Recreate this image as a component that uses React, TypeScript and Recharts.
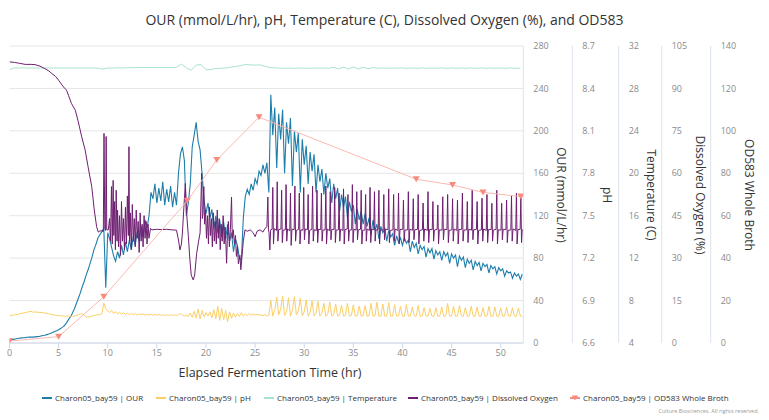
import React from 'react'
import { LineChart, Line, XAxis, YAxis, CartesianGrid } from 'recharts'

// OUR (mmol/L/hr), sampled every 0.2 hr from t = 0
const ourStep = 0.2
const ourValues = [
  2.5, 3.0, 3.4, 3.8, 4.2, 4.5, 4.8, 5.0, 5.1, 5.4, // 0
  5.5, 5.6, 5.5, 5.8, 6.0, 6.2, 6.6, 7.0, 7.3, 7.9, // 2
  8.5, 9.2, 10.0, 10.8, 11.6, 12.5, 13.6, 15.0, 16.5, 19.0, // 4
  22, 24.5, 28, 32, 37, 42, 47, 53, 58, 64, // 6
  69, 75, 81, 88, 93, 99, 102, 105, 108, 52, // 8
  104, 98, 90, 82, 77, 86, 80, 92, 83, 95, // 10
  86, 97, 88, 100, 92, 105, 96, 110, 100, 116, // 12
  108, 120, 142, 136, 150, 132, 146, 134, 152, 130, // 14
  145, 133, 148, 128, 142, 130, 160, 178, 185, 172, // 16
  120, 132, 150, 185, 196, 208, 190, 182, 160, 135, // 18
  122, 132, 118, 126, 108, 120, 104, 116, 100, 114, // 20
  98, 112, 96, 104, 86, 98, 92, 80, 78, 118, // 22
  138, 145, 140, 150, 144, 155, 150, 162, 158, 168, // 24
  160, 170, 142, 234, 196, 222, 165, 216, 192, 220, // 26
  160, 208, 188, 212, 148, 200, 180, 198, 142, 192, // 28
  168, 186, 150, 180, 162, 178, 142, 168, 152, 164, // 30
  140, 160, 146, 155, 132, 150, 136, 146, 124, 140, // 32
  128, 138, 118, 133, 124, 130, 112, 126, 116, 124, // 34
  112, 122, 110, 118, 102, 116, 106, 112, 98, 110, // 36
  104, 108, 96, 106, 100, 103, 92, 101, 95, 99, // 38
  92, 99, 94, 97, 86, 96, 90, 94, 84, 92, // 40
  88, 91, 81, 89, 85, 89, 79, 87, 83, 86, // 42
  78, 86, 82, 85, 75, 84, 80, 83, 72, 82, // 44
  78, 81, 71, 79, 75, 78, 69, 77, 73, 76, // 46
  68, 75, 72, 74, 66, 73, 70, 72, 65, 71, // 48
  68, 70, 63, 68, 66, 67, 61, 66, 63, 65, // 50
  60, 65, // 52
]

// pH, sampled every 0.2 hr from t = 0
const phStep = 0.2
const phValues = [
  6.793, 6.795, 6.797, 6.8, 6.803, 6.806, 6.809, 6.812, 6.815, 6.818,
  6.822, 6.823, 6.818, 6.82, 6.818, 6.817, 6.815, 6.814, 6.812, 6.81,
  6.806, 6.803, 6.8, 6.797, 6.795, 6.793, 6.792, 6.791, 6.79, 6.79,
  6.789, 6.788, 6.789, 6.79, 6.795, 6.8, 6.806, 6.807, 6.796, 6.786,
  6.783, 6.785, 6.79, 6.794, 6.797, 6.8, 6.802, 6.806, 6.882, 6.84,
  6.828, 6.815, 6.83, 6.808, 6.822, 6.805, 6.818, 6.802, 6.815, 6.8,
  6.812, 6.798, 6.81, 6.8, 6.808, 6.796, 6.806, 6.798, 6.807, 6.795,
  6.805, 6.797, 6.804, 6.795, 6.803, 6.796, 6.802, 6.794, 6.801, 6.795,
  6.8, 6.793, 6.801, 6.795, 6.799, 6.794, 6.8, 6.808, 6.798, 6.79,
  6.796, 6.788, 6.812, 6.78, 6.825, 6.776, 6.84, 6.77, 6.83, 6.785,
  6.815, 6.79, 6.82, 6.778, 6.835, 6.77, 6.86, 6.76, 6.845, 6.765,
  6.83, 6.75, 6.82, 6.775, 6.812, 6.783, 6.808, 6.788, 6.815, 6.79,
  6.805, 6.793, 6.81, 6.795, 6.806, 6.798, 6.804, 6.796, 6.8, 6.793,
  6.801, 6.79, 6.798, 6.9, 6.79, 6.83, 6.925, 6.8, 6.84, 6.93,
  6.795, 6.82, 6.92, 6.79, 6.835, 6.928, 6.8, 6.825, 6.915, 6.792,
  6.82, 6.905, 6.79, 6.815, 6.9, 6.792, 6.81, 6.895, 6.79, 6.808,
  6.88, 6.788, 6.805, 6.89, 6.79, 6.8, 6.875, 6.79, 6.798, 6.868,
  6.789, 6.797, 6.88, 6.79, 6.795, 6.87, 6.789, 6.794, 6.862, 6.79,
  6.793, 6.865, 6.789, 6.792, 6.88, 6.79, 6.792, 6.89, 6.789, 6.791,
  6.875, 6.79, 6.791, 6.885, 6.789, 6.79, 6.87, 6.79, 6.791, 6.86,
  6.789, 6.79, 6.872, 6.79, 6.791, 6.855, 6.79, 6.79, 6.865, 6.789,
  6.79, 6.85, 6.79, 6.791, 6.845, 6.789, 6.79, 6.85, 6.79, 6.791,
  6.855, 6.789, 6.79, 6.88, 6.79, 6.791, 6.86, 6.789, 6.79, 6.865,
  6.79, 6.79, 6.85, 6.789, 6.791, 6.86, 6.79, 6.79, 6.855, 6.789,
  6.79, 6.85, 6.79, 6.791, 6.86, 6.789, 6.79, 6.855, 6.79, 6.79,
  6.848, 6.789, 6.791, 6.852, 6.79, 6.79, 6.85, 6.789, 6.79, 6.848,
  6.79, 6.789,
]

// Temperature (C), sampled every 0.5 hr from t = 0
const tempStep = 0.5
const tempValues = [
  29.77, 29.93, 29.92, 29.93, 29.92, 29.93, 29.92, 29.93, 29.93, 29.92,
  29.93, 29.92, 29.93, 29.93, 29.92, 29.93, 29.92, 29.93, 29.92, 29.82,
  29.93, 29.92, 29.94, 29.93, 29.95, 29.96, 29.97, 29.96, 29.98, 29.97,
  29.96, 29.97, 29.98, 29.96, 30.0, 30.3, 29.95, 29.72, 30.2, 30.25,
  29.76, 29.78, 29.88, 29.9, 29.92, 30.0, 30.06, 30.15, 30.25, 30.22,
  30.2, 30.22, 30.1, 29.96, 29.94, 29.92, 29.9, 29.92, 29.9, 29.92,
  29.91, 29.9, 29.92, 29.91, 29.92, 29.9, 30.0, 29.84, 30.02, 29.82,
  30.03, 29.82, 30.01, 29.85, 29.96, 29.9, 29.93, 29.9, 29.93, 29.91,
  29.93, 29.9, 29.93, 29.9, 29.93, 29.9, 29.93, 29.9, 29.93, 29.9,
  29.93, 29.9, 29.93, 29.9, 29.93, 29.9, 29.93, 29.9, 29.93, 29.9,
  29.93, 29.9, 29.93, 29.9, 29.92,
]

// Dissolved oxygen (%), [hr, value]
const doPoints: [number, number][] = [
  [0, 99.4], [0.5, 99.2], [1, 98.9], [1.6, 98.5], [2.2, 98.5], [2.6, 98.4], [3.1, 97.9], [3.6, 97.0],
  [4.0, 96.2], [4.3, 95.3], [4.7, 94.2], [5.0, 92.9], [5.5, 90.5], [5.8, 89.4], [6.0, 87.6], [6.3, 84.7],
  [6.7, 82.3], [7.0, 78.2], [7.35, 72.9], [7.7, 68.2], [8.0, 62.3], [8.37, 55.3], [8.63, 47.0], [8.87, 41.1],
  [9.04, 39.2], [9.2, 39.6], [9.38, 39.7], [9.55, 39.4],
  [9.62, 74.1], [9.7, 40.5], [9.78, 39.8], [9.84, 73.0], [9.9, 40.0], [10.06, 40.0], [10.18, 44.0], [10.28, 36.0],
  [10.38, 55.3], [10.46, 35.0], [10.55, 57.5], [10.62, 38.0], [10.7, 50.0], [10.78, 33.0], [10.86, 54.0], [10.95, 36.0],
  [11.0, 47], [11.1, 34], [11.2, 45], [11.3, 31], [11.4, 50], [11.5, 36], [11.6, 44], [11.7, 33], [11.8, 48], [11.9, 35],
  [12.0, 52], [12.1, 38], [12.16, 69.4], [12.22, 36], [12.3, 46], [12.4, 33], [12.5, 49], [12.6, 36], [12.7, 44], [12.8, 34],
  [12.9, 47], [13.0, 37], [13.1, 43], [13.2, 32], [13.3, 46], [13.4, 36], [13.5, 42], [13.6, 34], [13.7, 45], [13.8, 37],
  [13.9, 43], [14.0, 35], [14.1, 42], [14.2, 37], [14.35, 40.5], [14.5, 40.0],
  [15.0, 40.2], [15.5, 40.1], [16.0, 40.2], [16.5, 40.0], [17.0, 39.9], [17.2, 36.4], [17.35, 32.9], [17.5, 35.0],
  [17.6, 38.9], [17.75, 48.0], [17.9, 56.4], [18.05, 45.0], [18.2, 38.0], [18.35, 30.0], [18.5, 24.0], [18.7, 22.3],
  [18.85, 24.0], [19.05, 31.7], [19.25, 36.0], [19.4, 38.9], [19.56, 60.0], [19.63, 44.0], [19.7, 46.0], [19.78, 55.3], [19.86, 42.0],
  [19.95, 47], [20.05, 37], [20.15, 45], [20.25, 35], [20.35, 48], [20.45, 38], [20.55, 44], [20.65, 34], [20.75, 46], [20.85, 36],
  [20.95, 43], [21.05, 35], [21.15, 47], [21.25, 37], [21.35, 44], [21.45, 33], [21.55, 42], [21.65, 36], [21.75, 45], [21.85, 35],
  [21.95, 41], [22.05, 33], [22.1, 28.2], [22.18, 38], [22.28, 43], [22.38, 34], [22.48, 40], [22.6, 51.6], [22.68, 37], [22.78, 40],
  [22.9, 35], [23.0, 38], [23.1, 30.6], [23.2, 34], [23.3, 28], [23.45, 31], [23.55, 25.9], [23.65, 30], [23.8, 36], [23.97, 40],
  [24.2, 39.5], [24.5, 40.0], [24.8, 39.0], [25.0, 37.6], [25.2, 39.5], [25.5, 40.0], [25.8, 39.2], [26.0, 40.5], [26.2, 41.1],
  [26.3, 51.6], [26.36, 40.0], [26.42, 39.0], [26.5, 32.9], [26.58, 40.0],
  [26.73, 40.2], [26.8, 55], [26.87, 35], [26.95, 40.4],
  [27.18, 39.8], [27.25, 57], [27.32, 36], [27.4, 40.1],
  [27.63, 40.3], [27.7, 54], [27.77, 35.5], [27.85, 39.9],
  [28.08, 40.0], [28.15, 56], [28.22, 36], [28.3, 40.3],
  [28.53, 39.7], [28.6, 53], [28.67, 34.5], [28.75, 40.2],
  [28.98, 40.1], [29.05, 55.5], [29.12, 36], [29.2, 39.8],
  [29.43, 40.2], [29.5, 53], [29.57, 35], [29.65, 40.0],
  [29.88, 39.9], [29.95, 55], [30.02, 36.5], [30.1, 40.3],
  [30.33, 40.1], [30.4, 52.5], [30.47, 35], [30.55, 39.8],
  [30.78, 40.2], [30.85, 55.5], [30.92, 36], [31.0, 40.0],
  [31.23, 39.8], [31.3, 54], [31.37, 35.5], [31.45, 40.2],
  [31.68, 40.1], [31.75, 53], [31.82, 36], [31.9, 39.9],
  [32.13, 40.0], [32.2, 55.5], [32.27, 35], [32.35, 40.3],
  [32.58, 39.7], [32.65, 53.5], [32.72, 36.5], [32.8, 40.1],
  [33.03, 40.2], [33.1, 55], [33.17, 35.5], [33.25, 39.9],
  [33.48, 40.0], [33.55, 53], [33.62, 36], [33.7, 40.2],
  [33.93, 39.8], [34.0, 54.5], [34.07, 35], [34.15, 40.1],
  [34.38, 40.3], [34.45, 52.5], [34.52, 36], [34.6, 39.9],
  [34.83, 40.0], [34.9, 56], [34.97, 35.5], [35.05, 40.2],
  [35.28, 39.9], [35.35, 53.5], [35.42, 36.5], [35.5, 40.0],
  [35.73, 40.2], [35.8, 54], [35.87, 35], [35.95, 39.8],
  [36.18, 40.0], [36.25, 52.5], [36.32, 36], [36.4, 40.3],
  [36.63, 39.8], [36.7, 55], [36.77, 35.5], [36.85, 40.1],
  [37.08, 40.1], [37.15, 53.5], [37.22, 36], [37.3, 39.9],
  [37.53, 40.2], [37.6, 54], [37.67, 35], [37.75, 40.0],
  [38.03, 39.9], [38.1, 52.5], [38.17, 36.5], [38.25, 40.2],
  [38.53, 40.1], [38.6, 54.5], [38.67, 35.5], [38.75, 39.8],
  [39.03, 40.0], [39.1, 52.5], [39.17, 36], [39.25, 40.3],
  [39.53, 39.8], [39.6, 53], [39.67, 35], [39.75, 40.1],
  [40.03, 40.2], [40.1, 50.5], [40.17, 36], [40.25, 39.9],
  [40.53, 40.0], [40.6, 53.5], [40.67, 35.5], [40.75, 40.2],
  [41.03, 39.9], [41.1, 51], [41.17, 36.5], [41.25, 40.0],
  [41.53, 40.2], [41.6, 52.5], [41.67, 35], [41.75, 39.8],
  [42.03, 40.0], [42.1, 49.5], [42.17, 36], [42.25, 40.3],
  [42.53, 39.8], [42.6, 53.5], [42.67, 35.5], [42.75, 40.1],
  [43.03, 40.1], [43.1, 50], [43.17, 36], [43.25, 39.9],
  [43.53, 40.2], [43.6, 48.8], [43.67, 35], [43.75, 40.0],
  [44.03, 39.9], [44.1, 51.7], [44.17, 36.5], [44.25, 40.2],
  [44.53, 40.1], [44.6, 52.5], [44.67, 35.5], [44.75, 39.8],
  [45.03, 40.0], [45.1, 51], [45.17, 36], [45.25, 40.3],
  [45.53, 39.8], [45.6, 50.5], [45.67, 35], [45.75, 40.1],
  [46.03, 40.2], [46.1, 53], [46.17, 36], [46.25, 39.9],
  [46.53, 40.0], [46.6, 50], [46.67, 35.5], [46.75, 40.2],
  [47.03, 39.9], [47.1, 54], [47.17, 36.5], [47.25, 40.0],
  [47.53, 40.2], [47.6, 50], [47.67, 35], [47.75, 39.8],
  [48.03, 40.0], [48.1, 51.2], [48.17, 36], [48.25, 40.3],
  [48.53, 39.8], [48.6, 52.5], [48.67, 35.5], [48.75, 40.1],
  [49.03, 40.1], [49.1, 49.4], [49.17, 36], [49.25, 39.9],
  [49.53, 40.2], [49.6, 54], [49.67, 35], [49.75, 40.0],
  [50.03, 39.9], [50.1, 49.4], [50.17, 36.5], [50.25, 40.2],
  [50.53, 40.1], [50.6, 50.5], [50.67, 35.5], [50.75, 39.8],
  [51.03, 40.0], [51.1, 52], [51.17, 36], [51.25, 40.3],
  [51.53, 39.8], [51.6, 52.9], [51.67, 35], [51.75, 40.1],
  [51.98, 40.2], [52.05, 51.5], [52.12, 35.5], [52.2, 40.0],
  [52.3, 40.1],
]

// OD583 whole broth samples
const odTimes = [0, 5.0, 9.6, 18.1, 21.1, 25.4, 41.4, 45.1, 48.2, 52.05]
const odValues = [0.9, 3.0, 21.8, 67, 86.3, 106.4, 77.2, 74.5, 71, 69]

const xTicks = [0, 5, 10, 15, 20, 25, 30, 35, 40, 45, 50]
const ourTicks = [0, 40, 80, 120, 160, 200, 240, 280]
const phTicks = [6.6, 6.9, 7.2, 7.5, 7.8, 8.1, 8.4, 8.7]
const tempTicks = [4, 8, 12, 16, 20, 24, 28, 32]
const doTicks = [0, 15, 30, 45, 60, 75, 90, 105]
const odTicks = [0, 20, 40, 60, 80, 100, 120, 140]

const ourData = ourValues.map((v, i) => ({ t: Math.round(i * ourStep * 10) / 10, v }))
const phData = phValues.map((v, i) => ({ t: Math.round(i * phStep * 10) / 10, v }))
const tempData = tempValues.map((v, i) => ({ t: i * tempStep, v }))
const doData = doPoints.map(([t, v]) => ({ t, v }))
const odData = odTimes.map((t, i) => ({ t, v: odValues[i] }))

const C_OUR = '#1d7eaa'
const C_PH = '#fbcf67'
const C_TEMP = '#a9e2cd'
const C_DO = '#6e1f70'
const C_OD_LINE = '#fbb9b0'
const C_OD_MARK = '#f98a7e'

const FONT = '"Open Sans", "Noto Sans", sans-serif'
const axisStroke = '#dce3ee'
const tickStyle = { fontSize: 9, fill: '#8a8a8a', fontFamily: FONT }

// axis ids are prefixed so they sort in the order the axes sit, plot outwards
const ID_OUR = 'a_our'
const ID_PH = 'b_ph'
const ID_TEMP = 'c_temp'
const ID_DO = 'd_do'
const ID_OD = 'e_od'

const TriangleDown = (props: any) => {
  const { cx, cy, index } = props
  if (cx == null || cy == null) return null
  return (
    <path
      key={`od-dot-${index}`}
      d={`M${cx - 3.5},${cy - 3} L${cx + 3.5},${cy - 3} L${cx},${cy + 3} Z`}
      fill={C_OD_MARK}
    />
  )
}

const legendItems = [
  { label: 'Charon05_bay59 | OUR', color: C_OUR, x: 42 },
  { label: 'Charon05_bay59 | pH', color: C_PH, x: 156 },
  { label: 'Charon05_bay59 | Temperature', color: C_TEMP, x: 264 },
  { label: 'Charon05_bay59 | Dissolved Oxygen', color: C_DO, x: 408 },
  { label: 'Charon05_bay59 | OD583 Whole Broth', color: C_OD_MARK, x: 570, marker: true },
]

const axisLabels = [
  { text: 'OUR (mmol/L/hr)', cx: 561 },
  { text: 'pH', cx: 607 },
  { text: 'Temperature (C)', cx: 651 },
  { text: 'Dissolved Oxygen (%)', cx: 700 },
  { text: 'OD583 Whole Broth', cx: 749 },
]

export default function App() {
  return (
    <div style={{ position: 'absolute', left: 0, top: 0, width: 769, height: 420, fontFamily: FONT, background: '#fff', overflow: 'hidden' }}>
      <div style={{ position: 'absolute', left: 0, top: 0 }}>
        <LineChart width={769} height={420} margin={{ top: 46, right: 8.3, bottom: 52, left: 9.5 }}>
          <CartesianGrid yAxisId={ID_OUR} vertical={false} stroke="#e6e6e6" />
          <XAxis
            type="number"
            dataKey="t"
            domain={[0, 52.3]}
            ticks={xTicks}
            interval={0}
            allowDataOverflow
            height={25}
            stroke="#ccd6eb"
            tickSize={5}
            tickMargin={2}
            tick={tickStyle}
          />
          <YAxis yAxisId={ID_OUR} orientation="right" width={49} domain={[0, 280]} ticks={ourTicks} interval={0}
            axisLine={{ stroke: axisStroke }} tickLine={false} tickSize={6} tickMargin={4} tick={tickStyle} allowDataOverflow />
          <YAxis yAxisId={ID_PH} orientation="right" width={46.4} domain={[6.6, 8.7]} ticks={phTicks} interval={0}
            tickFormatter={(v: number) => v.toFixed(1)}
            axisLine={{ stroke: axisStroke }} tickLine={false} tickSize={6} tickMargin={4} tick={tickStyle} allowDataOverflow />
          <YAxis yAxisId={ID_TEMP} orientation="right" width={43} domain={[4, 32]} ticks={tempTicks} interval={0}
            axisLine={{ stroke: axisStroke }} tickLine={false} tickSize={6} tickMargin={4} tick={tickStyle} allowDataOverflow />
          <YAxis yAxisId={ID_DO} orientation="right" width={49} domain={[0, 105]} ticks={doTicks} interval={0}
            axisLine={{ stroke: axisStroke }} tickLine={false} tickSize={6} tickMargin={4} tick={tickStyle} allowDataOverflow />
          <YAxis yAxisId={ID_OD} orientation="right" width={50} domain={[0, 140]} ticks={odTicks} interval={0}
            axisLine={{ stroke: axisStroke }} tickLine={false} tickSize={6} tickMargin={4} tick={tickStyle} allowDataOverflow />

          <Line yAxisId={ID_OUR} data={ourData} dataKey="v" type="linear" stroke={C_OUR} strokeWidth={1.1} dot={false} isAnimationActive={false} />
          <Line yAxisId={ID_PH} data={phData} dataKey="v" type="linear" stroke={C_PH} strokeWidth={1} dot={false} isAnimationActive={false} />
          <Line yAxisId={ID_TEMP} data={tempData} dataKey="v" type="linear" stroke={C_TEMP} strokeWidth={1} dot={false} isAnimationActive={false} />
          <Line yAxisId={ID_DO} data={doData} dataKey="v" type="linear" stroke={C_DO} strokeWidth={1} dot={false} isAnimationActive={false} />
          <Line yAxisId={ID_OD} data={odData} dataKey="v" type="linear" stroke={C_OD_LINE} strokeWidth={1} dot={TriangleDown} activeDot={false} isAnimationActive={false} />
        </LineChart>
      </div>

      <div style={{ position: 'absolute', left: 0, top: 11, width: 769, textAlign: 'center', fontSize: 14, lineHeight: '18px', color: '#333' }}>
        OUR (mmol/L/hr), pH, Temperature (C), Dissolved Oxygen (%), and OD583
      </div>

      {axisLabels.map((a) => (
        <div
          key={a.text}
          style={{
            position: 'absolute', left: a.cx - 150, top: 194.5 - 8, width: 300, height: 16,
            lineHeight: '16px', textAlign: 'center', fontSize: 12, color: '#333',
            transform: 'rotate(90deg)', transformOrigin: '50% 50%', whiteSpace: 'nowrap',
          }}
        >
          {a.text}
        </div>
      ))}

      <div style={{ position: 'absolute', left: 120, top: 365, width: 300, textAlign: 'center', fontSize: 12.5, lineHeight: '16px', color: '#333' }}>
        Elapsed Fermentation Time (hr)
      </div>

      {legendItems.map((it) => (
        <div key={it.label} style={{ position: 'absolute', left: it.x, top: 391, height: 13, display: 'flex', alignItems: 'center', whiteSpace: 'nowrap' }}>
          <svg width={10} height={8} style={{ marginRight: 3 }}>
            <line x1={0} y1={4} x2={10} y2={4} stroke={it.color} strokeWidth={2} />
            {it.marker && <path d="M1.8,1.5 L8.2,1.5 L5,6.5 Z" fill={it.color} />}
          </svg>
          <span style={{ fontSize: 8, color: '#333' }}>{it.label}</span>
        </div>
      ))}

      <div style={{ position: 'absolute', right: 10, top: 407, fontSize: 5.5, color: '#999', whiteSpace: 'nowrap' }}>
        Culture Biosciences. All rights reserved.
      </div>
    </div>
  )
}
